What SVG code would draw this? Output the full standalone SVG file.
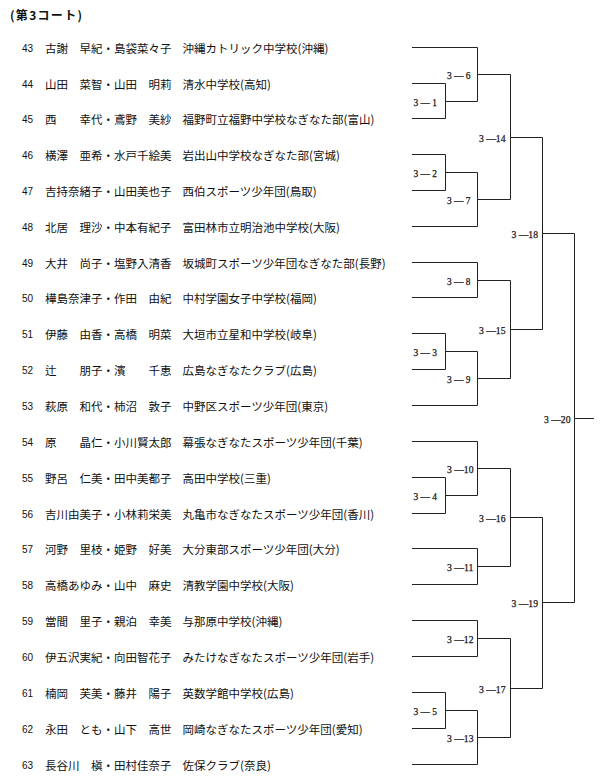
<svg xmlns="http://www.w3.org/2000/svg" width="600" height="780" viewBox="0 0 600 780">
<style>
.bg{fill:#fff}
.num{font-family:"Liberation Sans",Arial,sans-serif;font-size:10px;fill:#111}
.jp{font-family:"Noto Sans CJK JP","Noto Sans",sans-serif;font-size:11.5px;fill:#111}
.hd{font-family:"Noto Sans CJK JP","Noto Sans",sans-serif;font-size:12px;font-weight:bold;fill:#111}
.lb{font-family:"Liberation Serif","Times New Roman",serif;font-size:11px;fill:#111;stroke:#111;stroke-width:0.25}
.ln{fill:none;stroke:#222;stroke-width:1}
</style>
<rect class="bg" x="0" y="0" width="600" height="780"/>
<text class="hd" x="10" y="19.5" textLength="72" lengthAdjust="spacing">(第3コート)</text>

<g id="entries">
<g id="e43" transform="translate(0,47.5)"><text class="num" x="22" y="4.6">43</text><text class="jp" x="45" y="5">古謝　早紀・島袋菜々子</text><text class="jp" x="182.5" y="5">沖縄カトリック中学校(沖縄)</text></g>
<g id="e44" transform="translate(0,83.5)"><text class="num" x="22" y="4.6">44</text><text class="jp" x="45" y="5">山田　菜智・山田　明莉</text><text class="jp" x="182.5" y="5">清水中学校(高知)</text></g>
<g id="e45" transform="translate(0,118.5)"><text class="num" x="22" y="4.6">45</text><text class="jp" x="45" y="5">西　　幸代・鳶野　美紗</text><text class="jp" x="182.5" y="5">福野町立福野中学校なぎなた部(富山)</text></g>
<g id="e46" transform="translate(0,154.5)"><text class="num" x="22" y="4.6">46</text><text class="jp" x="45" y="5">横澤　亜希・水戸千絵美</text><text class="jp" x="182.5" y="5">岩出山中学校なぎなた部(宮城)</text></g>
<g id="e47" transform="translate(0,190.5)"><text class="num" x="22" y="4.6">47</text><text class="jp" x="45" y="5">吉持奈緒子・山田美也子</text><text class="jp" x="182.5" y="5">西伯スポーツ少年団(鳥取)</text></g>
<g id="e48" transform="translate(0,226.5)"><text class="num" x="22" y="4.6">48</text><text class="jp" x="45" y="5">北居　理沙・中本有紀子</text><text class="jp" x="182.5" y="5">富田林市立明治池中学校(大阪)</text></g>
<g id="e49" transform="translate(0,262.5)"><text class="num" x="22" y="4.6">49</text><text class="jp" x="45" y="5">大井　尚子・塩野入清香</text><text class="jp" x="182.5" y="5">坂城町スポーツ少年団なぎなた部(長野)</text></g>
<g id="e50" transform="translate(0,297.5)"><text class="num" x="22" y="4.6">50</text><text class="jp" x="45" y="5">樺島奈津子・作田　由紀</text><text class="jp" x="182.5" y="5">中村学園女子中学校(福岡)</text></g>
<g id="e51" transform="translate(0,333.5)"><text class="num" x="22" y="4.6">51</text><text class="jp" x="45" y="5">伊藤　由香・高橋　明菜</text><text class="jp" x="182.5" y="5">大垣市立星和中学校(岐阜)</text></g>
<g id="e52" transform="translate(0,369.5)"><text class="num" x="22" y="4.6">52</text><text class="jp" x="45" y="5">辻　　朋子・濱　　千恵</text><text class="jp" x="182.5" y="5">広島なぎなたクラブ(広島)</text></g>
<g id="e53" transform="translate(0,405.5)"><text class="num" x="22" y="4.6">53</text><text class="jp" x="45" y="5">萩原　和代・柿沼　敦子</text><text class="jp" x="182.5" y="5">中野区スポーツ少年団(東京)</text></g>
<g id="e54" transform="translate(0,441.5)"><text class="num" x="22" y="4.6">54</text><text class="jp" x="45" y="5">原　　晶仁・小川賢太郎</text><text class="jp" x="182.5" y="5">幕張なぎなたスポーツ少年団(千葉)</text></g>
<g id="e55" transform="translate(0,477.5)"><text class="num" x="22" y="4.6">55</text><text class="jp" x="45" y="5">野呂　仁美・田中美都子</text><text class="jp" x="182.5" y="5">高田中学校(三重)</text></g>
<g id="e56" transform="translate(0,513.5)"><text class="num" x="22" y="4.6">56</text><text class="jp" x="45" y="5">吉川由美子・小林莉栄美</text><text class="jp" x="182.5" y="5">丸亀市なぎなたスポーツ少年団(香川)</text></g>
<g id="e57" transform="translate(0,548.5)"><text class="num" x="22" y="4.6">57</text><text class="jp" x="45" y="5">河野　里枝・姫野　好美</text><text class="jp" x="182.5" y="5">大分東部スポーツ少年団(大分)</text></g>
<g id="e58" transform="translate(0,584.5)"><text class="num" x="22" y="4.6">58</text><text class="jp" x="45" y="5">高橋あゆみ・山中　麻史</text><text class="jp" x="182.5" y="5">清教学園中学校(大阪)</text></g>
<g id="e59" transform="translate(0,620.5)"><text class="num" x="22" y="4.6">59</text><text class="jp" x="45" y="5">當間　里子・親泊　幸美</text><text class="jp" x="182.5" y="5">与那原中学校(沖縄)</text></g>
<g id="e60" transform="translate(0,656.5)"><text class="num" x="22" y="4.6">60</text><text class="jp" x="45" y="5">伊五沢実紀・向田智花子</text><text class="jp" x="182.5" y="5">みたけなぎなたスポーツ少年団(岩手)</text></g>
<g id="e61" transform="translate(0,692.5)"><text class="num" x="22" y="4.6">61</text><text class="jp" x="45" y="5">楠岡　芙美・藤井　陽子</text><text class="jp" x="182.5" y="5">英数学館中学校(広島)</text></g>
<g id="e62" transform="translate(0,728.5)"><text class="num" x="22" y="4.6">62</text><text class="jp" x="45" y="5">永田　とも・山下　高世</text><text class="jp" x="182.5" y="5">岡崎なぎなたスポーツ少年団(愛知)</text></g>
<g id="e63" transform="translate(0,764.5)"><text class="num" x="22" y="4.6">63</text><text class="jp" x="45" y="5">長谷川　槇・田村佳奈子</text><text class="jp" x="182.5" y="5">佐保クラブ(奈良)</text></g>
</g>

<g id="connectors" class="ln">
<path d="M412 47.5H477.5M412 83.5H445.5M412 118.5H445.5M412 154.5H445.5M412 190.5H445.5M412 226.5H477.5M412 262.5H477.5M412 297.5H477.5M412 333.5H445.5M412 369.5H445.5M412 405.5H477.5M412 441.5H477.5M412 477.5H445.5M412 513.5H445.5M412 548.5H477.5M412 584.5H477.5M412 620.5H477.5M412 656.5H477.5M412 692.5H445.5M412 728.5H445.5M412 764.5H477.5"/>
<path d="M445.5 83.5V118.5M445.5 101.5H477.5"/>
<path d="M477.5 47.5V101.5M477.5 74.5H510.5"/>
<path d="M445.5 154.5V190.5M445.5 172.5H477.5"/>
<path d="M477.5 172.5V226.5M477.5 199.5H510.5"/>
<path d="M510.5 74.5V199.5M510.5 137.5H542.5"/>
<path d="M477.5 262.5V297.5M477.5 280.5H510.5"/>
<path d="M445.5 333.5V369.5M445.5 351.5H477.5"/>
<path d="M477.5 351.5V405.5M477.5 378.5H510.5"/>
<path d="M510.5 280.5V378.5M510.5 329.5H542.5"/>
<path d="M542.5 137.5V329.5M542.5 233.5H574.5"/>
<path d="M445.5 477.5V513.5M445.5 495.5H477.5"/>
<path d="M477.5 441.5V495.5M477.5 468.5H510.5"/>
<path d="M477.5 548.5V584.5M477.5 566.5H510.5"/>
<path d="M510.5 468.5V566.5M510.5 517.5H542.5"/>
<path d="M477.5 620.5V656.5M477.5 638.5H510.5"/>
<path d="M445.5 692.5V728.5M445.5 710.5H477.5"/>
<path d="M477.5 710.5V764.5M477.5 737.5H510.5"/>
<path d="M510.5 638.5V737.5M510.5 688.5H542.5"/>
<path d="M542.5 517.5V688.5M542.5 602.5H574.5"/>
<path d="M574.5 233.5V602.5M574.5 418.5H594"/>
</g>

<g id="matches">
<g id="m3-1"><text class="lb" x="413.5" y="105.5" textLength="23.5" lengthAdjust="spacingAndGlyphs">3 — 1</text></g>
<g id="m3-6"><text class="lb" x="447" y="78.5" textLength="23.5" lengthAdjust="spacingAndGlyphs">3 — 6</text></g>
<g id="m3-2"><text class="lb" x="413.5" y="176.5" textLength="23.5" lengthAdjust="spacingAndGlyphs">3 — 2</text></g>
<g id="m3-7"><text class="lb" x="447" y="203.5" textLength="23.5" lengthAdjust="spacingAndGlyphs">3 — 7</text></g>
<g id="m3-14"><text class="lb" x="479" y="141.5" textLength="26.5" lengthAdjust="spacingAndGlyphs">3 —14</text></g>
<g id="m3-8"><text class="lb" x="447" y="284.5" textLength="23.5" lengthAdjust="spacingAndGlyphs">3 — 8</text></g>
<g id="m3-3"><text class="lb" x="413.5" y="355.5" textLength="23.5" lengthAdjust="spacingAndGlyphs">3 — 3</text></g>
<g id="m3-9"><text class="lb" x="447" y="382.5" textLength="23.5" lengthAdjust="spacingAndGlyphs">3 — 9</text></g>
<g id="m3-15"><text class="lb" x="479" y="333.5" textLength="26.5" lengthAdjust="spacingAndGlyphs">3 —15</text></g>
<g id="m3-18"><text class="lb" x="511.5" y="237.5" textLength="26.5" lengthAdjust="spacingAndGlyphs">3 —18</text></g>
<g id="m3-4"><text class="lb" x="413.5" y="499.5" textLength="23.5" lengthAdjust="spacingAndGlyphs">3 — 4</text></g>
<g id="m3-10"><text class="lb" x="447" y="472.5" textLength="26.5" lengthAdjust="spacingAndGlyphs">3 —10</text></g>
<g id="m3-11"><text class="lb" x="447" y="570.5" textLength="26.5" lengthAdjust="spacingAndGlyphs">3 —11</text></g>
<g id="m3-16"><text class="lb" x="479" y="521.5" textLength="26.5" lengthAdjust="spacingAndGlyphs">3 —16</text></g>
<g id="m3-12"><text class="lb" x="447" y="642.5" textLength="26.5" lengthAdjust="spacingAndGlyphs">3 —12</text></g>
<g id="m3-5"><text class="lb" x="413.5" y="714.5" textLength="23.5" lengthAdjust="spacingAndGlyphs">3 — 5</text></g>
<g id="m3-13"><text class="lb" x="447" y="741.5" textLength="26.5" lengthAdjust="spacingAndGlyphs">3 —13</text></g>
<g id="m3-17"><text class="lb" x="479" y="692.5" textLength="26.5" lengthAdjust="spacingAndGlyphs">3 —17</text></g>
<g id="m3-19"><text class="lb" x="511.5" y="606.5" textLength="26.5" lengthAdjust="spacingAndGlyphs">3 —19</text></g>
<g id="m3-20"><text class="lb" x="544" y="422.5" textLength="26.5" lengthAdjust="spacingAndGlyphs">3 —20</text></g>
</g>
</svg>
